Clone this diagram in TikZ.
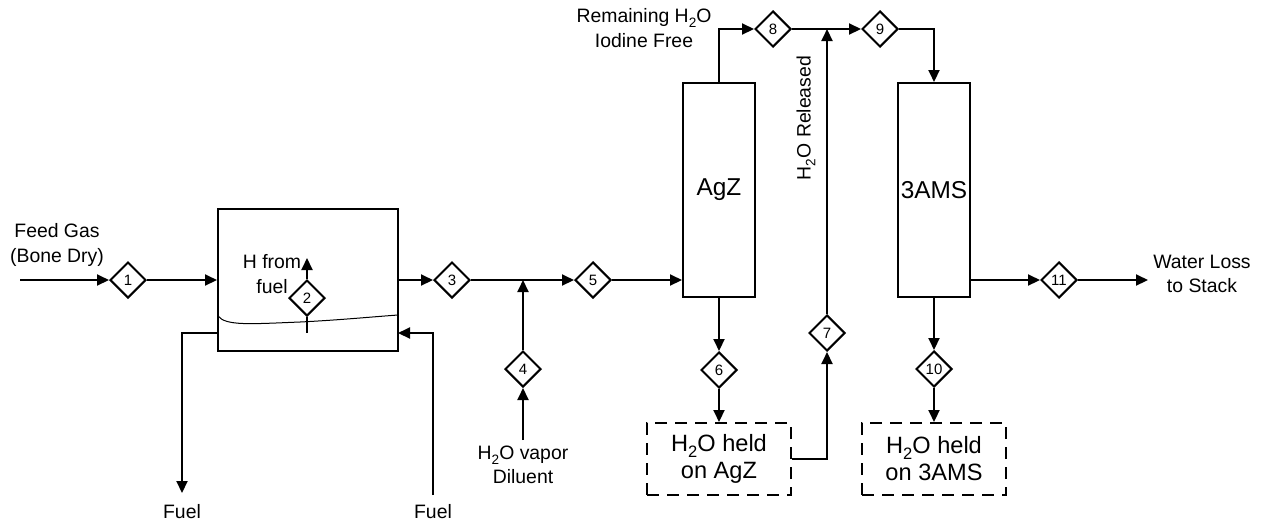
\documentclass[tikz,border=0pt]{standalone}
\usepackage{fontspec}
\setmainfont{Liberation Sans}
\usetikzlibrary{shapes.geometric,arrows.meta}
\newcommand{\water}{H\raisebox{-0.45ex}{\fontsize{0.7em}{1em}\selectfont 2}O}
\begin{document}
\begin{tikzpicture}[x=0.5pt,y=-0.5pt,
  flow/.style={line width=1pt,-{Triangle[length=6pt,width=5.5pt]}},
  pipe/.style={line width=1pt},
  tag/.style={diamond,draw,line width=1pt,minimum width=18pt,minimum height=18pt,inner sep=0pt,font=\fontsize{7.5}{8}\selectfont,fill=white},
  unit/.style={draw,line width=1pt,inner sep=0pt,font=\fontsize{12.2}{14}\selectfont},
  hold/.style={draw,line width=1pt,dash pattern=on 6pt off 4pt,inner sep=0pt,align=center,font=\fontsize{11.8}{13.5}\selectfont},
  lbl/.style={font=\fontsize{9.7}{12.2}\selectfont,align=center,inner sep=0pt}
]
\useasboundingbox (0,0) rectangle (1261,521);

% units
\node[unit,minimum width=90pt,minimum height=71pt] (box1) at (308,280) {};
\node[unit,minimum width=36pt,minimum height=107pt] (agz) at (719,190) {AgZ};
\node[unit,minimum width=36pt,minimum height=107pt] (ams) at (934,190) {3AMS};
\node[hold,minimum width=72pt,minimum height=36pt] (hold1) at (719,459) {\water{} held\\on AgZ};
\node[hold,minimum width=72pt,minimum height=36pt] (hold2) at (934,459) {\water{} held\\on 3AMS};

% stream tags
\node[tag] (d1) at (128,280) {1};
\node[tag] (d2) at (307,298) {2};
\node[tag] (d3) at (452,280) {3};
\node[tag] (d4) at (523,369) {4};
\node[tag] (d5) at (593,280) {5};
\node[tag] (d6) at (719,370) {6};
\node[tag] (d7) at (827,333) {7};
\node[tag] (d8) at (773,29) {8};
\node[tag] (d9) at (880,29) {9};
\node[tag] (d10) at (934,369) {10};
\node[tag] (d11) at (1059,280) {11};

% free ends
\coordinate (feedin) at (20,280);
\coordinate (j4) at (523,280);
\coordinate (src4) at (523,440);
\coordinate (j7) at (827,29);
\coordinate (wout) at (1148,280);
\coordinate (fo1) at (218,333);
\coordinate (fuelout) at (182,493);
\coordinate (fi1) at (398,333);
\coordinate (fuelin) at (433,495);
\coordinate (h2) at (307,258);
\coordinate (d2b) at (307,333);

% labels
\node[lbl] (feedlbl) at (57,245) {Feed Gas\\(Bone Dry)};
\node[lbl] (hfuel) at (272,274) {H from\\fuel};
\node[lbl] (vaporlbl) at (523,465) {\water{} vapor\\Diluent};
\node[lbl] (remlbl) at (644,28) {Remaining \water\\Iodine Free};
\node[lbl,rotate=90] (rellbl) at (806,118) {\water{} Released};
\node[lbl] (waterlbl) at (1202,274) {Water Loss\\to Stack};
\node[lbl] (fuel1) at (182,512) {Fuel};
\node[lbl] (fuel2) at (433,512) {Fuel};

% connectors
\draw[flow] (feedin) -- (d1);
\draw[flow] (d1) -- (box1.west);
\draw[flow] (box1.east) -- (d3);
\draw[flow] (d3) -- (d5);
\draw[flow] (d4) -- (j4);
\draw[flow] (src4) -- (d4);
\draw[flow] (d5) -- (agz.west |- d5);
\draw[flow] (agz.south) -- (d6);
\draw[flow] (d6) -- (hold1.north);
\draw[flow] (agz.north) |- (d8);
\draw[flow] (d8) -- (d9);
\draw[flow] (hold1.east) -| (d7);
\draw[flow] (d7) -- (j7);
\draw[flow] (d9) -| (ams.north);
\draw[flow] (ams.south) -- (d10);
\draw[flow] (d10) -- (hold2.north);
\draw[flow] (ams.east |- d11) -- (d11);
\draw[flow] (d11) -- (wout);
\draw[flow] (fo1) -| (fuelout);
\draw[flow] (fuelin) |- (fi1);
\draw[flow] (d2) -- (h2);
\draw[pipe] (d2) -- (d2b);

% liquid level
\draw[line width=0.5pt] (218,316) .. controls (226,326) and (250,324) .. (300,322)
  .. controls (340,320) and (370,317) .. (398,315);
\end{tikzpicture}
\end{document}
